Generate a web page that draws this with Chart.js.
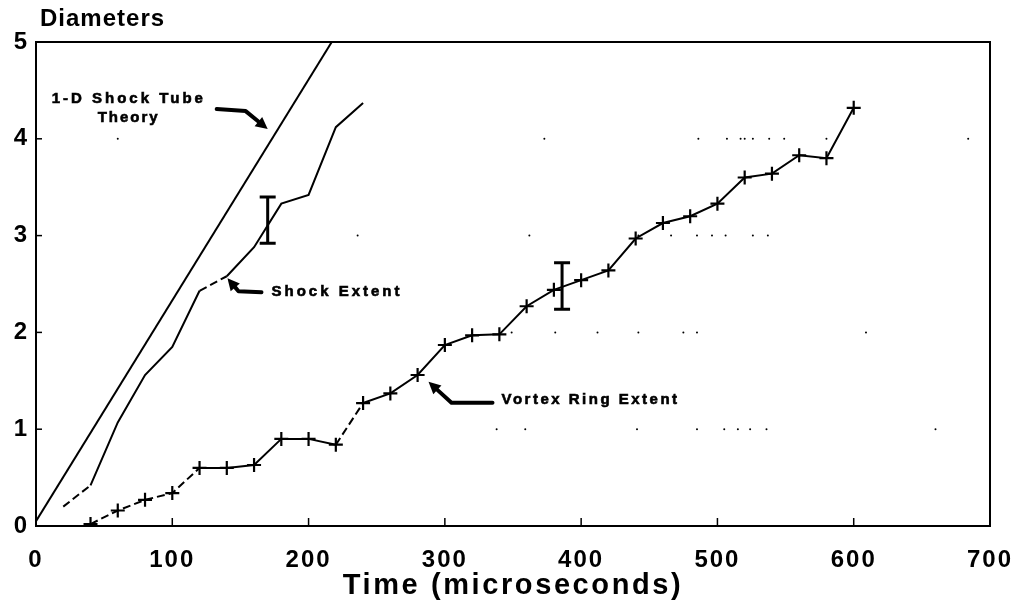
<!DOCTYPE html>
<html>
<head>
<meta charset="utf-8">
<script src="https://cdn.jsdelivr.net/npm/chart.js@4.4.1/dist/chart.umd.min.js"></script>
<style>
  html, body { margin: 0; padding: 0; background: #fff; }
</style>
</head>
<body>
<canvas id="shockChart" width="1023" height="614"></canvas>
<script>
// Data (time in microseconds, extent in diameters)
const theoryTime = [0, 217];
const theoryDiam = [0.05, 5.0];

const shockTime = [20, 40, 60, 80, 100, 120, 140, 160, 180, 200, 220, 240];
const shockDiam = [0.20, 0.42, 1.07, 1.56, 1.85, 2.43, 2.58, 2.88, 3.33, 3.42, 4.12, 4.37];

const vortexTime = [40, 60, 80, 100, 120, 140, 160, 180, 200, 220, 240, 260, 280, 300, 320,
                    340, 360, 380, 400, 420, 440, 460, 480, 500, 520, 540, 560, 580, 600];
const vortexDiam = [0.02, 0.16, 0.27, 0.34, 0.60, 0.60, 0.63, 0.90, 0.90, 0.84, 1.27, 1.37, 1.56, 1.87, 1.97,
                    1.98, 2.27, 2.44, 2.54, 2.64, 2.97, 3.13, 3.20, 3.33, 3.60, 3.64, 3.83, 3.80, 4.32];

// error bars (one on each measured curve)
const errTime = [170, 386];
const errLow = [2.92, 2.24];
const errHigh = [3.40, 2.72];

// stray grid dots left on the original sheet
const dotTime = [60, 373, 486, 507, 517, 520, 526, 538, 549, 580, 684,
                 236, 362, 442, 466, 485, 496, 506, 526, 537,
                 349, 381, 412, 442, 475, 485, 609,
                 338, 359, 441, 485, 505, 515, 524, 536, 660];
const dotDiam = [4, 4, 4, 4, 4, 4, 4, 4, 4, 4, 4,
                 3, 3, 3, 3, 3, 3, 3, 3, 3,
                 2, 2, 2, 2, 2, 2, 2,
                 1, 1, 1, 1, 1, 1, 1, 1, 1];

const xTickValues = [0, 100, 200, 300, 400, 500, 600, 700];
const yTickValues = [0, 1, 2, 3, 4, 5];

// text labels with arrows, anchored at the arrow tip (data units)
const notes = [
    { lines: ['1-D Shock Tube', 'Theory'], t: 170, d: 4.1 },
    { lines: ['Shock Extent'], t: 140.5, d: 2.56 },
    { lines: ['Vortex Ring Extent'], t: 288, d: 1.49 }
];

const FONT = "'Liberation Sans', Arial, sans-serif";

function toPoints(xs, ys) {
    return xs.map((x, i) => ({ x: x, y: ys[i] }));
}

function drawArrow(ctx, pts) {
    // pts: polyline ending at the tip
    ctx.save();
    ctx.strokeStyle = '#000';
    ctx.fillStyle = '#000';
    ctx.lineWidth = 4;
    ctx.lineJoin = 'round';
    ctx.lineCap = 'round';
    const n = pts.length;
    const tip = pts[n - 1];
    const prev = pts[n - 2];
    const ang = Math.atan2(tip.y - prev.y, tip.x - prev.x);
    const headLen = 12;
    const base = { x: tip.x - Math.cos(ang) * headLen, y: tip.y - Math.sin(ang) * headLen };
    ctx.beginPath();
    ctx.moveTo(pts[0].x, pts[0].y);
    for (let i = 1; i < n - 1; i++) ctx.lineTo(pts[i].x, pts[i].y);
    ctx.lineTo(base.x, base.y);
    ctx.stroke();
    ctx.beginPath();
    ctx.moveTo(tip.x, tip.y);
    ctx.lineTo(base.x + Math.cos(ang + Math.PI / 2) * 6, base.y + Math.sin(ang + Math.PI / 2) * 6);
    ctx.lineTo(base.x + Math.cos(ang - Math.PI / 2) * 6, base.y + Math.sin(ang - Math.PI / 2) * 6);
    ctx.closePath();
    ctx.fill();
    ctx.restore();
}

function drawText(ctx, text, x, y, size, spacing, align, heavy) {
    ctx.save();
    ctx.fillStyle = '#000';
    ctx.strokeStyle = '#000';
    ctx.font = 'bold ' + size + 'px ' + FONT;
    ctx.letterSpacing = spacing + 'px';
    ctx.textAlign = align || 'left';
    ctx.textBaseline = 'middle';
    ctx.fillText(text, x, y);
    if (heavy) {
        ctx.lineWidth = heavy;
        ctx.strokeText(text, x, y);
    }
    ctx.restore();
}

const decorPlugin = {
    id: 'decor',
    beforeUpdate(chart) {
        chart.ctx.letterSpacing = '2px';
    },
    afterDraw(chart) {
        const ctx = chart.ctx;
        const area = chart.chartArea;
        const xs = chart.scales.x;
        const ys = chart.scales.y;

        // frame on top and right
        ctx.save();
        ctx.strokeStyle = '#000';
        ctx.lineWidth = 2;
        ctx.beginPath();
        ctx.moveTo(area.left, area.top);
        ctx.lineTo(area.right, area.top);
        ctx.lineTo(area.right, area.bottom);
        ctx.stroke();

        // inward tick marks
        ctx.lineWidth = 1.5;
        xTickValues.slice(1, -1).forEach(v => {
            const px = xs.getPixelForValue(v);
            ctx.beginPath();
            ctx.moveTo(px, area.bottom);
            ctx.lineTo(px, area.bottom - 8);
            ctx.stroke();
        });
        yTickValues.slice(1, -1).forEach(v => {
            const py = ys.getPixelForValue(v);
            ctx.beginPath();
            ctx.moveTo(area.left, py);
            ctx.lineTo(area.left + 6, py);
            ctx.stroke();
        });

        // error bars
        errTime.forEach((t, i) => {
            const px = xs.getPixelForValue(t);
            const top = ys.getPixelForValue(errHigh[i]);
            const bot = ys.getPixelForValue(errLow[i]);
            ctx.lineWidth = 3;
            ctx.beginPath();
            ctx.moveTo(px, top);
            ctx.lineTo(px, bot);
            ctx.moveTo(px - 8, top);
            ctx.lineTo(px + 8, top);
            ctx.moveTo(px - 8, bot);
            ctx.lineTo(px + 8, bot);
            ctx.stroke();
        });
        ctx.restore();

        // axis titles
        drawText(ctx, 'Diameters', 40, 19, 24, 1, 'left');
        drawText(ctx, 'Time (microseconds)', (area.left + area.right) / 2, 586, 29, 2.6, 'center');

        // annotations
        const tips = notes.map(n => ({ x: xs.getPixelForValue(n.t), y: ys.getPixelForValue(n.d) }));

        let p = tips[0];
        drawArrow(ctx, [{ x: p.x - 51, y: p.y - 20 }, { x: p.x - 22, y: p.y - 18 }, p]);
        drawText(ctx, notes[0].lines[0], p.x - 216, p.y - 30, 15, 3, 'left', 0.6);
        drawText(ctx, notes[0].lines[1], p.x - 170, p.y - 11, 15, 2, 'left', 0.6);

        p = tips[1];
        drawArrow(ctx, [{ x: p.x + 34, y: p.y + 14 }, { x: p.x + 11, y: p.y + 13 }, p]);
        drawText(ctx, notes[1].lines[0], p.x + 44, p.y + 14, 15, 3, 'left', 0.6);

        p = tips[2];
        drawArrow(ctx, [{ x: p.x + 64, y: p.y + 21 }, { x: p.x + 23, y: p.y + 21 }, p]);
        drawText(ctx, notes[2].lines[0], p.x + 73, p.y + 18, 15, 2.5, 'left', 0.6);
    }
};

const dashed = [8, 4];
const shockDashFrom = [20, 120];
const vortexDashFrom = [40, 60, 80, 100, 220];

const chart = new Chart(document.getElementById('shockChart'), {
    type: 'line',
    data: {
        datasets: [
            {
                label: '1-D Shock Tube Theory',
                data: toPoints(theoryTime, theoryDiam),
                borderColor: '#000',
                borderWidth: 2,
                pointRadius: 0
            },
            {
                label: 'Shock Extent',
                data: toPoints(shockTime, shockDiam),
                borderColor: '#000',
                borderWidth: 2,
                pointRadius: 0,
                segment: {
                    borderDash: c => shockDashFrom.includes(c.p0.parsed.x) ? dashed : undefined
                }
            },
            {
                label: 'Vortex Ring Extent',
                data: toPoints(vortexTime, vortexDiam),
                borderColor: '#000',
                borderWidth: 2,
                pointStyle: 'cross',
                pointRadius: 7,
                pointBorderWidth: 2.2,
                pointBorderColor: '#000',
                segment: {
                    borderDash: c => vortexDashFrom.includes(c.p0.parsed.x) ? dashed : undefined
                }
            },
            {
                label: 'grid dots',
                type: 'scatter',
                data: toPoints(dotTime, dotDiam),
                pointRadius: 1,
                pointBorderWidth: 0,
                backgroundColor: '#000',
                showLine: false
            }
        ]
    },
    options: {
        responsive: false,
        animation: false,
        layout: { padding: { top: 42, right: 33, left: 0, bottom: 0 } },
        plugins: {
            legend: { display: false },
            tooltip: { enabled: false }
        },
        elements: { line: { tension: 0 } },
        scales: {
            x: {
                type: 'linear',
                min: 0,
                max: 700,
                afterBuildTicks: s => { s.ticks = xTickValues.map(v => ({ value: v })); },
                afterFit: s => {
                    s.height = 88;
                    s.paddingLeft = 0;
                    s.paddingRight = 0;
                },
                grid: { display: false, drawTicks: false },
                border: { display: true, color: '#000', width: 2 },
                ticks: {
                    color: '#000',
                    padding: 20,
                    maxRotation: 0,
                    font: { family: FONT, size: 24, weight: 'bold' }
                }
            },
            y: {
                type: 'linear',
                min: 0,
                max: 5,
                afterBuildTicks: s => { s.ticks = yTickValues.map(v => ({ value: v })); },
                afterFit: s => {
                    s.width = 36;
                    s.paddingTop = 0;
                    s.paddingBottom = 0;
                },
                grid: { display: false, drawTicks: false },
                border: { display: true, color: '#000', width: 2 },
                ticks: {
                    color: '#000',
                    padding: 7,
                    font: { family: FONT, size: 24, weight: 'bold' }
                }
            }
        }
    },
    plugins: [decorPlugin]
});
</script>
</body>
</html>
